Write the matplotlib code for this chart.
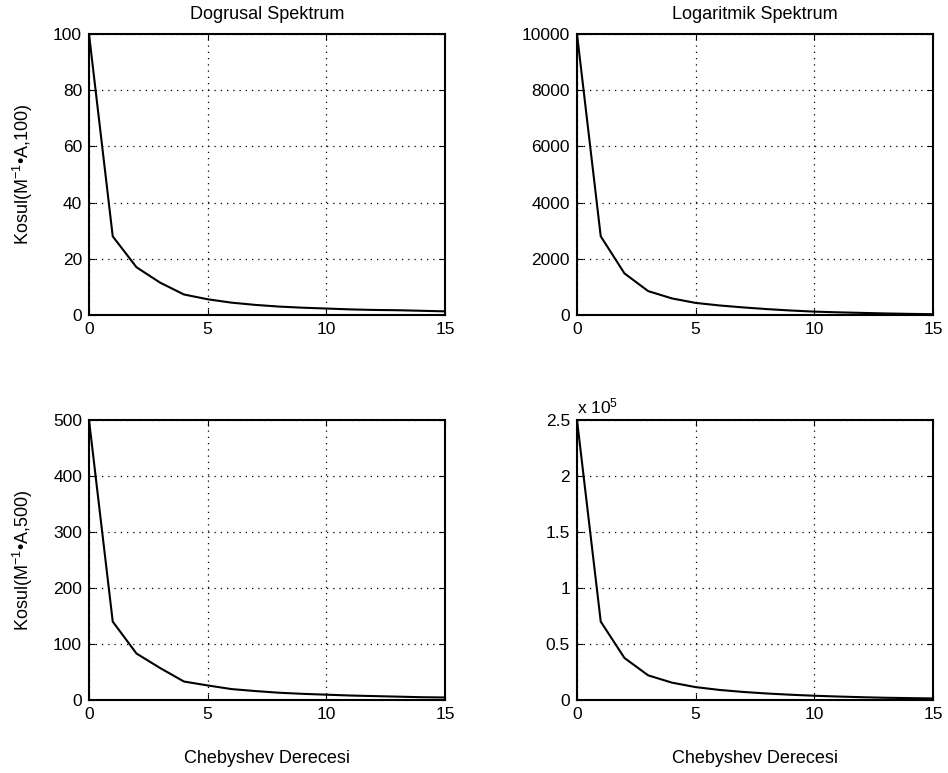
import numpy as np
import matplotlib
matplotlib.use("Agg")
import matplotlib.pyplot as plt
from matplotlib.ticker import FuncFormatter

plt.rcParams['font.family'] = ['Liberation Sans', 'DejaVu Sans']
plt.rcParams['mathtext.fontset'] = 'custom'
plt.rcParams['mathtext.rm'] = 'Liberation Sans'
plt.rcParams['mathtext.it'] = 'Liberation Sans'

# Chebyshev orders
derece = np.arange(0, 16)

# condition numbers, linear spectrum, A = 100
kosul_dog_100 = [100, 28, 17, 11.5, 7.3, 5.6, 4.4, 3.6, 3.0, 2.6, 2.3, 2.0, 1.8, 1.7, 1.5, 1.3]
# logarithmic spectrum, A = 100
kosul_log_100 = [10000, 2800, 1480, 850, 590, 430, 340, 270, 210, 160, 120, 95, 75, 55, 40, 28]
# linear spectrum, A = 500
kosul_dog_500 = [500, 140, 83, 57, 33, 26, 19.5, 16, 13, 11, 9.5, 8, 7, 6, 5, 4.5]
# logarithmic spectrum, A = 500
kosul_log_500 = [250000, 70000, 37500, 22000, 15500, 11500, 9000, 7200, 5800, 4700, 3800, 3100, 2500, 2000, 1700, 1400]

fig = plt.figure(figsize=(9.48, 7.73), dpi=100)
W, H = 948, 773

def make_ax(left, top, right, bottom):
    return fig.add_axes([left / W, 1 - bottom / H, (right - left) / W, (bottom - top) / H])

ax1 = make_ax(89, 34, 445, 315)
ax2 = make_ax(577, 34, 933, 315)
ax3 = make_ax(89, 420, 445, 700)
ax4 = make_ax(577, 420, 933, 700)

panels = [
    (ax1, kosul_dog_100, 100, [0, 20, 40, 60, 80, 100]),
    (ax2, kosul_log_100, 10000, [0, 2000, 4000, 6000, 8000, 10000]),
    (ax3, kosul_dog_500, 500, [0, 100, 200, 300, 400, 500]),
    (ax4, kosul_log_500, 2.5e5, [0, 0.5e5, 1e5, 1.5e5, 2e5, 2.5e5]),
]

FS = 12.5
for ax, vals, ymax, yt in panels:
    ax.plot(derece, vals, color='black', lw=1.5)
    ax.set_xlim(0, 15)
    ax.set_ylim(0, ymax)
    ax.set_xticks([0, 5, 10, 15])
    ax.set_yticks(yt)
    ax.grid(True, color='black', linestyle=(0, (1, 4)), lw=0.9)
    ax.tick_params(direction='in', top=True, right=True, labelsize=FS, length=4,
                   width=0.8, pad=5)
    for s in ax.spines.values():
        s.set_linewidth(1.5)

ax4.yaxis.set_major_formatter(FuncFormatter(lambda v, p: f'{v / 1e5:g}'))
ax4.text(0.0, 1.012, r'x 10$^5$', transform=ax4.transAxes, fontsize=FS, ha='left', va='bottom')

ax1.set_title('Dogrusal Spektrum', fontsize=13, pad=11)
ax2.set_title('Logaritmik Spektrum', fontsize=13, pad=11)
ax1.set_ylabel(r'Kosul(M$^{-1}$•A,100)', fontsize=13, labelpad=13)
ax3.set_ylabel(r'Kosul(M$^{-1}$•A,500)', fontsize=13, labelpad=13)
ax3.set_xlabel('Chebyshev Derecesi', fontsize=13, labelpad=20)
ax4.set_xlabel('Chebyshev Derecesi', fontsize=13, labelpad=20)

fig.savefig('out.png', dpi=100)
